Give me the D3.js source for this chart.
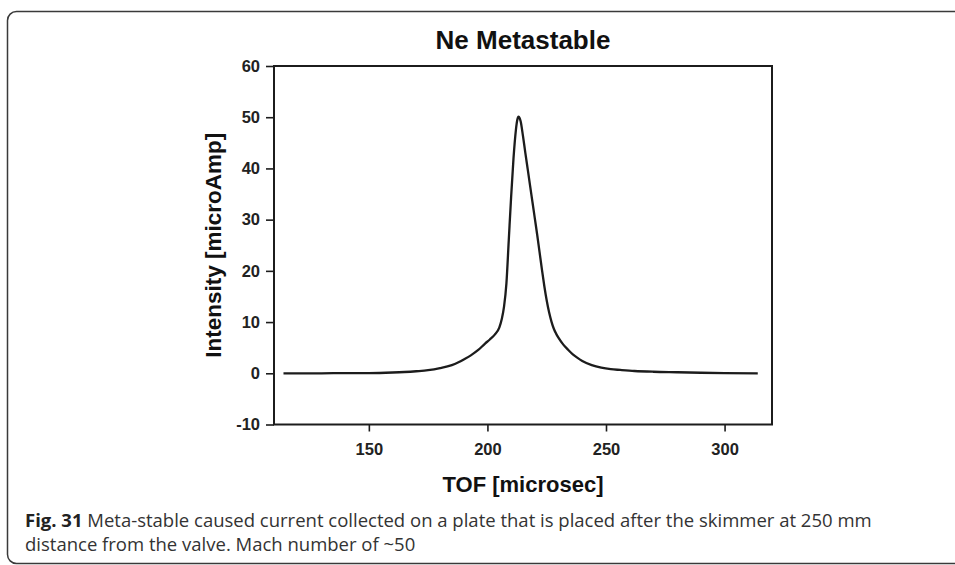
<!DOCTYPE html>
<html>
<head>
<meta charset="utf-8">
<script src="https://cdn.jsdelivr.net/npm/d3@7"></script>
<style>
    body { margin: 0; background: #fff; }
    svg { display: block; }
</style>
</head>
<body>
<div id="chart_parent"></div>
<script>
// values
const tofValues = [
    114, 120, 130, 140, 150, 160, 165, 170, 175, 180, 185, 188, 190, 193, 196, 199, 201, 203, 205,
    206, 207, 208, 209, 210, 211, 212, 212.6, 213.1, 213.6, 214, 215, 216, 217, 218, 219, 220,
    221, 222, 223, 224, 225, 226, 227, 228, 229, 230, 232, 234, 236, 238, 240, 244, 248, 252,
    256, 262, 270, 280, 290, 300, 314,
];
const intensityValues = [
    0.0, 0.0, 0.0, 0.05, 0.05, 0.15, 0.25, 0.4, 0.6, 1.0, 1.6, 2.2, 2.7, 3.5, 4.5, 5.8, 6.6, 7.5, 8.9,
    10.5, 13, 17.5, 26, 34.5, 42, 47.5, 49.5, 50.1, 49.8, 49.2, 46.3, 43, 39.8, 36.6, 33.4, 30.2,
    27, 23.6, 20.2, 17, 14.2, 11.9, 10.1, 8.7, 7.7, 6.9, 5.6, 4.6, 3.7, 3.0, 2.4, 1.6, 1.1, 0.8,
    0.65, 0.45, 0.3, 0.2, 0.1, 0.05, 0.0,
];
const xTicks = [150, 200, 250, 300];
const yTicks = [-10, 0, 10, 20, 30, 40, 50, 60];
const xDomain = [110, 320];
const yDomain = [-10, 60];

const chartTitle = 'Ne Metastable';
const xLabel = 'TOF [microsec]';
const yLabel = 'Intensity [microAmp]';
const captionLines = [
    { bold: 'Fig. 31', text: ' Meta-stable caused current collected on a plate that is placed after the skimmer at 250 mm' },
    { bold: '', text: 'distance from the valve. Mach number of ~50' },
];

const chartConfig = {
    outerWidth: 955,
    outerHeight: 565,
    plot: { left: 274, right: 772, top: 66, bottom: 424.5 },
    ink: '#1c1c1c',
};

function initialiseChartElements(rootSelector, config) {
    const svg = d3.select(rootSelector).append('svg')
        .attr('width', config.outerWidth)
        .attr('height', config.outerHeight);

    // page frame, only the left corners are visible
    svg.append('rect')
        .attr('x', 7.5)
        .attr('y', 11.5)
        .attr('width', 1000)
        .attr('height', 552)
        .attr('rx', 9)
        .attr('fill', 'none')
        .attr('stroke', '#3a3a3a')
        .attr('stroke-width', 1.5);

    const chartEl = svg.append('g');
    const xAxisGroup = chartEl.append('g')
        .attr('class', 'x-axis-group')
        .attr('transform', `translate(0,${config.plot.bottom})`);
    const yAxisGroup = chartEl.append('g')
        .attr('class', 'y-axis-group')
        .attr('transform', `translate(${config.plot.left},0)`);

    return { svg, chartEl, xAxisGroup, yAxisGroup };
}

function styleAxis(group, config) {
    group.select('.domain').remove();
    group.selectAll('.tick line')
        .attr('stroke', config.ink)
        .attr('stroke-width', 1.6);
    group.selectAll('.tick text')
        .attr('fill', '#222')
        .attr('font-family', 'Liberation Sans, Arial, sans-serif')
        .attr('font-weight', 'bold')
        .attr('font-size', 16.5);
}

function updateChart(config, elements) {
    const { svg, chartEl, xAxisGroup, yAxisGroup } = elements;
    const p = config.plot;

    const xScale = d3.scaleLinear().domain(xDomain).range([p.left, p.right]);
    const yScale = d3.scaleLinear().domain(yDomain).range([p.bottom, p.top]);

    // plain hyphen for negatives, like the original plot
    const plain = v => String(v);

    xAxisGroup.call(d3.axisBottom(xScale)
        .tickValues(xTicks)
        .tickSize(7)
        .tickPadding(12)
        .tickFormat(plain));
    styleAxis(xAxisGroup, config);

    yAxisGroup.call(d3.axisLeft(yScale)
        .tickValues(yTicks)
        .tickSize(8)
        .tickPadding(6)
        .tickFormat(plain));
    styleAxis(yAxisGroup, config);

    // plot box
    chartEl.append('rect')
        .attr('x', p.left)
        .attr('y', p.top)
        .attr('width', p.right - p.left)
        .attr('height', p.bottom - p.top)
        .attr('fill', 'none')
        .attr('stroke', config.ink)
        .attr('stroke-width', 2);

    const points = tofValues.map((t, i) => [t, intensityValues[i]]);
    const line = d3.line()
        .x(d => xScale(d[0]))
        .y(d => yScale(d[1]))
        .curve(d3.curveMonotoneX);

    chartEl.append('path')
        .datum(points)
        .attr('fill', 'none')
        .attr('stroke', config.ink)
        .attr('stroke-width', 2.3)
        .attr('stroke-linejoin', 'round')
        .attr('d', line);

    chartEl.append('text')
        .attr('x', (p.left + p.right) / 2)
        .attr('y', 49)
        .attr('text-anchor', 'middle')
        .attr('font-family', 'Liberation Sans, Arial, sans-serif')
        .attr('font-weight', 'bold')
        .attr('font-size', 26)
        .attr('fill', '#111')
        .text(chartTitle);

    chartEl.append('text')
        .attr('x', (p.left + p.right) / 2)
        .attr('y', 492)
        .attr('text-anchor', 'middle')
        .attr('font-family', 'Liberation Sans, Arial, sans-serif')
        .attr('font-weight', 'bold')
        .attr('font-size', 22)
        .attr('fill', '#111')
        .text(xLabel);

    chartEl.append('text')
        .attr('transform', `translate(221,${(p.top + p.bottom) / 2}) rotate(-90)`)
        .attr('text-anchor', 'middle')
        .attr('font-family', 'Liberation Sans, Arial, sans-serif')
        .attr('font-weight', 'bold')
        .attr('font-size', 22.5)
        .attr('fill', '#111')
        .text(yLabel);

    const caption = svg.append('g')
        .attr('font-family', 'Open Sans, sans-serif')
        .attr('font-size', 18.5)
        .attr('fill', '#333');

    caption.selectAll('text')
        .data(captionLines)
        .enter()
        .append('text')
        .attr('x', 25)
        .attr('y', (d, i) => 527 + i * 24)
        .each(function (d) {
            const el = d3.select(this);
            if (d.bold) {
                el.append('tspan')
                    .attr('font-weight', 'bold')
                    .attr('fill', '#222')
                    .text(d.bold);
            }
            el.append('tspan').text(d.text);
        });
}

const chartElements = initialiseChartElements('#chart_parent', chartConfig);
updateChart(chartConfig, chartElements);
</script>
</body>
</html>
